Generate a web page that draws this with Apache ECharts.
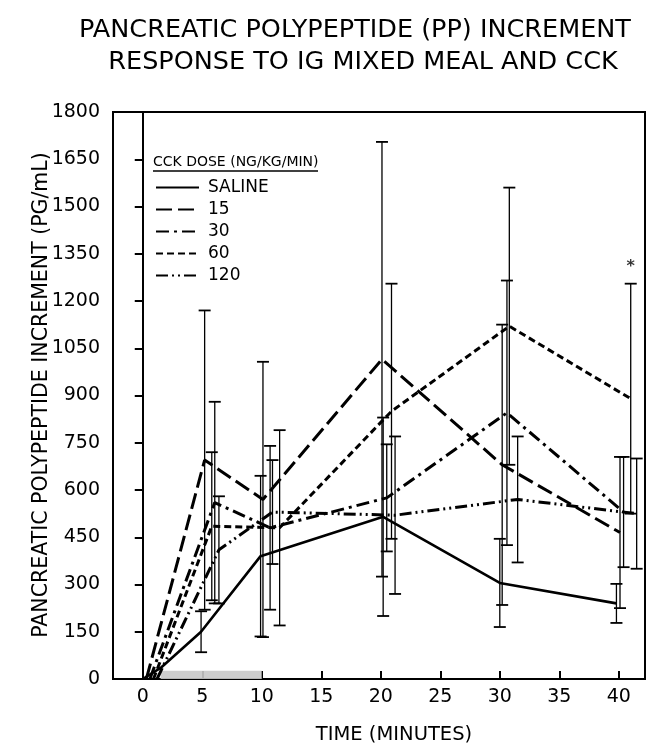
<!DOCTYPE html>
<html><head><meta charset="utf-8">
<script src="https://cdn.jsdelivr.net/npm/echarts@6/dist/echarts.min.js"></script>
<style>html,body{margin:0;padding:0;background:#fff}#c{width:654px;height:748px}</style>
</head><body><div id="c"></div>
<script>
// ---- data ----
const seriesNames = ['SALINE', '15', '30', '60', '120'];
const xTickValues = [0, 5, 10, 15, 20, 25, 30, 35, 40];

const salineTime = [0, 1.5, 4.9, 9.9, 20.2, 30.0, 39.8];
const salineMean = [0, 35, 150, 390, 515, 305, 240];
const salineErr  = [null, null, 65, 255, 315, 140, 62];

const dose15Time = [0.3, 5.2, 10.1, 20.1, 30.2, 40.1];
const dose15Mean = [0, 695, 570, 1015, 680, 465];
const dose15Err  = [null, 475, 437, 690, 445, 240];

const dose30Time = [0.6, 6.05, 10.7, 20.5, 30.6, 40.4];
const dose30Mean = [0, 560, 480, 575, 845, 530];
const dose30Err  = [null, 320, 260, 170, 420, 175];

const dose60Time = [0.9, 5.8, 11.5, 20.9, 30.8, 41.0];
const dose60Mean = [0, 485, 480, 850, 1120, 890];
const dose60Err  = [null, 235, 310, 405, 440, 365];

const dose120Time = [1.2, 6.4, 10.9, 21.2, 31.5, 41.5];
const dose120Mean = [0, 410, 530, 520, 570, 525];
const dose120Err  = [null, 170, 165, 250, 200, 175];

const asteriskPoint = [41.0, 1310];
const infusionBand = [1.5, 10];

// ---- build ----
const FONT = 'DejaVu Sans';
const groups = [
  {t: salineTime, m: salineMean, e: salineErr, dash: 'solid', w: 2.6},
  {t: dose15Time, m: dose15Mean, e: dose15Err, dash: [16, 6], w: 3},
  {t: dose30Time, m: dose30Mean, e: dose30Err, dash: [13, 5, 3, 5], w: 3},
  {t: dose60Time, m: dose60Mean, e: dose60Err, dash: [7, 4], w: 3},
  {t: dose120Time, m: dose120Mean, e: dose120Err, dash: [12, 4, 2, 4, 2, 4], w: 3}
];

function errRender(params, api) {
  const x = api.value(0), y = api.value(1), e = api.value(2);
  const top = api.coord([x, y + e]);
  const bot = api.coord([x, y - e]);
  const hw = 6;
  const st = {stroke: '#000', lineWidth: 1.3};
  return {type: 'group', children: [
    {type: 'line', shape: {x1: top[0], y1: top[1], x2: bot[0], y2: bot[1]}, style: st},
    {type: 'line', shape: {x1: top[0] - hw, y1: top[1], x2: top[0] + hw, y2: top[1]}, style: {stroke: '#000', lineWidth: 1.8}},
    {type: 'line', shape: {x1: bot[0] - hw, y1: bot[1], x2: bot[0] + hw, y2: bot[1]}, style: {stroke: '#000', lineWidth: 1.8}}
  ]};
}

const series = [];
groups.forEach((g, i) => {
  series.push({
    name: seriesNames[i], type: 'line', symbol: 'none',
    data: g.t.map((t, k) => [t, g.m[k]]),
    lineStyle: {color: '#000', width: g.w, type: g.dash},
    itemStyle: {color: '#000'},
    z: 3,
    markArea: i === 0 ? {
      silent: true,
      itemStyle: {color: '#c8c8c8', opacity: 0.9},
      data: [[{coord: [infusionBand[0], 0]}, {coord: [infusionBand[1], 26]}]]
    } : undefined
  });
  series.push({
    name: 'err-' + seriesNames[i], type: 'custom', renderItem: errRender,
    data: g.t.map((t, k) => [t, g.m[k], g.e[k]]).filter(d => d[2] != null),
    z: 2
  });
});
series.push({
  name: 'asterisk', type: 'scatter', symbolSize: 1, itemStyle: {color: 'transparent'},
  data: [asteriskPoint],
  label: {show: true, formatter: '*', position: 'inside', color: '#000', fontSize: 16, fontFamily: FONT, fontWeight: 'bold'}
});

const chart = echarts.init(document.getElementById('c'), null, {renderer: 'canvas'});
chart.setOption({
  animation: false,
  backgroundColor: '#fff',
  grid: {left: 113, right: 9, top: 112, bottom: 69, show: true, borderColor: '#000', borderWidth: 2},
  xAxis: {
    type: 'value', min: -2.5, max: 42.2,
    axisLine: {show: true, lineStyle: {color: '#000', width: 2}},
    axisTick: {show: true, inside: true, length: 8, lineStyle: {color: '#000', width: 2}, customValues: xTickValues},
    axisLabel: {show: true, customValues: xTickValues, color: '#000', fontSize: 19, fontFamily: FONT, margin: 9},
    splitLine: {show: false}
  },
  yAxis: {
    type: 'value', min: 0, max: 1800, interval: 150,
    axisLine: {show: true, lineStyle: {color: '#000', width: 2}},
    axisTick: {show: true, inside: false, length: 8, lineStyle: {color: '#000', width: 2}},
    axisLabel: {color: '#000', fontSize: 19, fontFamily: FONT, margin: 13, formatter: v => String(v)},
    splitLine: {show: false}
  },
  legend: {
    data: seriesNames, orient: 'vertical', left: 150, top: 174,
    itemWidth: 43, itemHeight: 14, itemGap: 5,
    itemStyle: {opacity: 0},
    textStyle: {color: '#000', fontSize: 17, fontFamily: FONT, lineHeight: 15, padding: [0, 0, 0, 4]},
    selectedMode: false
  },
  graphic: [
    {type: 'text', x: 355, y: 30, style: {text: 'PANCREATIC POLYPEPTIDE (PP) INCREMENT', font: '25.5px "DejaVu Sans"', fill: '#000', textAlign: 'center', textVerticalAlign: 'middle'}},
    {type: 'text', x: 363, y: 62, style: {text: 'RESPONSE TO IG MIXED MEAL AND CCK', font: '25.5px "DejaVu Sans"', fill: '#000', textAlign: 'center', textVerticalAlign: 'middle'}},
    {type: 'text', x: 42, y: 395, rotation: Math.PI / 2, style: {text: 'PANCREATIC POLYPEPTIDE INCREMENT (PG/mL)', font: '20.5px "DejaVu Sans"', fill: '#000', textAlign: 'center', textVerticalAlign: 'middle'}},
    {type: 'text', x: 394, y: 735, style: {text: 'TIME (MINUTES)', font: '19.5px "DejaVu Sans"', fill: '#000', textAlign: 'center', textVerticalAlign: 'middle'}},
    {type: 'text', x: 153, y: 162, style: {text: 'CCK DOSE (NG/KG/MIN)', font: '14px "DejaVu Sans"', fill: '#000', textAlign: 'left', textVerticalAlign: 'middle'}},
    {type: 'line', shape: {x1: 153, y1: 171, x2: 318, y2: 171}, style: {stroke: '#000', lineWidth: 1.5}}
  ],
  series: series
});
</script></body></html>
